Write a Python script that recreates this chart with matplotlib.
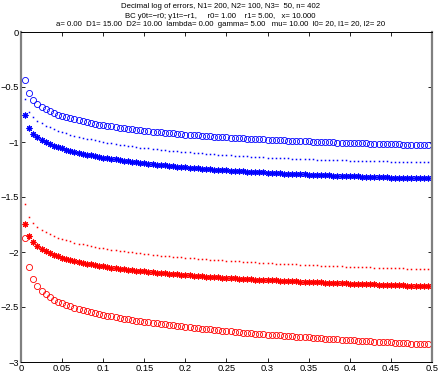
import matplotlib
matplotlib.use("Agg")
import matplotlib.pyplot as plt

# x grid of the computed points
x_vals = [0.005, 0.010, 0.015, 0.020, 0.025, 0.030, 0.035, 0.040, 0.045, 0.050,
          0.055, 0.060, 0.065, 0.070, 0.075, 0.080, 0.085, 0.090, 0.095, 0.100,
          0.105, 0.110, 0.115, 0.120, 0.125, 0.130, 0.135, 0.140, 0.145, 0.150,
          0.155, 0.160, 0.165, 0.170, 0.175, 0.180, 0.185, 0.190, 0.195, 0.200,
          0.205, 0.210, 0.215, 0.220, 0.225, 0.230, 0.235, 0.240, 0.245, 0.250,
          0.255, 0.260, 0.265, 0.270, 0.275, 0.280, 0.285, 0.290, 0.295, 0.300,
          0.305, 0.310, 0.315, 0.320, 0.325, 0.330, 0.335, 0.340, 0.345, 0.350,
          0.355, 0.360, 0.365, 0.370, 0.375, 0.380, 0.385, 0.390, 0.395, 0.400,
          0.405, 0.410, 0.415, 0.420, 0.425, 0.430, 0.435, 0.440, 0.445, 0.450,
          0.455, 0.460, 0.465, 0.470, 0.475, 0.480, 0.485, 0.490, 0.495]

# blue circles
blue_circle = [-0.439, -0.559, -0.615, -0.652, -0.679, -0.701, -0.720, -0.736, -0.750, -0.762, -0.774, -0.784, -0.794, -0.803, -0.812, -0.819, -0.827, -0.834, -0.841, -0.847, -0.853, -0.859, -0.864, -0.869, -0.874, -0.879, -0.884, -0.888, -0.893, -0.897, -0.901, -0.905, -0.908, -0.912, -0.916, -0.919, -0.922, -0.926, -0.929, -0.932, -0.935, -0.938, -0.940, -0.943, -0.946, -0.948, -0.951, -0.953, -0.956, -0.958, -0.960, -0.962, -0.965, -0.967, -0.969, -0.971, -0.973, -0.975, -0.977, -0.979, -0.980, -0.982, -0.984, -0.986, -0.987, -0.989, -0.990, -0.992, -0.994, -0.995, -0.997, -0.998, -0.999, -1.001, -1.002, -1.004, -1.005, -1.006, -1.007, -1.009, -1.010, -1.011, -1.012, -1.013, -1.014, -1.016, -1.017, -1.018, -1.019, -1.020, -1.021, -1.022, -1.023, -1.024, -1.025, -1.026, -1.027, -1.027, -1.028]
# blue dots
blue_dot = [-0.608, -0.723, -0.774, -0.806, -0.831, -0.851, -0.868, -0.883, -0.897, -0.910, -0.922, -0.932, -0.943, -0.952, -0.961, -0.969, -0.977, -0.985, -0.992, -0.999, -1.006, -1.012, -1.018, -1.024, -1.029, -1.035, -1.040, -1.045, -1.050, -1.054, -1.059, -1.063, -1.067, -1.071, -1.075, -1.078, -1.082, -1.086, -1.089, -1.092, -1.095, -1.098, -1.101, -1.104, -1.107, -1.110, -1.113, -1.115, -1.118, -1.120, -1.122, -1.125, -1.127, -1.129, -1.131, -1.133, -1.135, -1.137, -1.139, -1.141, -1.143, -1.145, -1.146, -1.148, -1.149, -1.151, -1.153, -1.154, -1.155, -1.157, -1.158, -1.160, -1.161, -1.162, -1.163, -1.164, -1.166, -1.167, -1.168, -1.169, -1.170, -1.171, -1.172, -1.173, -1.174, -1.175, -1.175, -1.176, -1.177, -1.178, -1.179, -1.179, -1.180, -1.181, -1.182, -1.182, -1.183, -1.183, -1.184]
# blue asterisks
blue_star = [-0.759, -0.874, -0.925, -0.958, -0.982, -1.002, -1.019, -1.034, -1.047, -1.059, -1.070, -1.080, -1.089, -1.098, -1.106, -1.114, -1.122, -1.129, -1.135, -1.142, -1.148, -1.154, -1.159, -1.165, -1.170, -1.175, -1.180, -1.184, -1.189, -1.193, -1.197, -1.201, -1.205, -1.209, -1.213, -1.216, -1.220, -1.223, -1.226, -1.230, -1.233, -1.236, -1.239, -1.242, -1.244, -1.247, -1.250, -1.252, -1.255, -1.257, -1.260, -1.262, -1.264, -1.267, -1.269, -1.271, -1.273, -1.275, -1.277, -1.279, -1.281, -1.283, -1.285, -1.287, -1.288, -1.290, -1.292, -1.293, -1.295, -1.297, -1.298, -1.300, -1.301, -1.303, -1.304, -1.306, -1.307, -1.308, -1.310, -1.311, -1.312, -1.313, -1.315, -1.316, -1.317, -1.318, -1.319, -1.320, -1.321, -1.323, -1.324, -1.325, -1.326, -1.327, -1.328, -1.329, -1.329, -1.330, -1.331]
# red dots
red_dot = [-1.565, -1.680, -1.736, -1.772, -1.800, -1.822, -1.840, -1.856, -1.870, -1.882, -1.894, -1.904, -1.914, -1.923, -1.931, -1.939, -1.947, -1.954, -1.960, -1.967, -1.973, -1.978, -1.984, -1.989, -1.994, -1.999, -2.004, -2.008, -2.013, -2.017, -2.021, -2.025, -2.029, -2.032, -2.036, -2.039, -2.043, -2.046, -2.049, -2.052, -2.055, -2.058, -2.061, -2.064, -2.067, -2.069, -2.072, -2.074, -2.077, -2.079, -2.082, -2.084, -2.086, -2.088, -2.091, -2.093, -2.095, -2.097, -2.099, -2.101, -2.103, -2.105, -2.106, -2.108, -2.110, -2.112, -2.113, -2.115, -2.117, -2.118, -2.120, -2.122, -2.123, -2.125, -2.126, -2.128, -2.129, -2.130, -2.132, -2.133, -2.135, -2.136, -2.137, -2.138, -2.140, -2.141, -2.142, -2.143, -2.145, -2.146, -2.147, -2.148, -2.149, -2.150, -2.151, -2.152, -2.153, -2.154, -2.155]
# red asterisks
red_star = [-1.749, -1.853, -1.907, -1.943, -1.970, -1.991, -2.010, -2.025, -2.039, -2.051, -2.062, -2.072, -2.081, -2.089, -2.097, -2.105, -2.112, -2.118, -2.124, -2.130, -2.136, -2.141, -2.146, -2.151, -2.156, -2.160, -2.165, -2.169, -2.173, -2.177, -2.180, -2.184, -2.187, -2.191, -2.194, -2.197, -2.201, -2.204, -2.207, -2.209, -2.212, -2.215, -2.218, -2.220, -2.223, -2.225, -2.228, -2.230, -2.232, -2.235, -2.237, -2.239, -2.241, -2.243, -2.246, -2.248, -2.250, -2.252, -2.253, -2.255, -2.257, -2.259, -2.261, -2.263, -2.264, -2.266, -2.268, -2.269, -2.271, -2.273, -2.274, -2.276, -2.277, -2.279, -2.280, -2.282, -2.283, -2.285, -2.286, -2.287, -2.289, -2.290, -2.291, -2.293, -2.294, -2.295, -2.297, -2.298, -2.299, -2.300, -2.302, -2.303, -2.304, -2.305, -2.306, -2.307, -2.308, -2.310, -2.311]
# red circles
red_circle = [-1.876, -2.140, -2.248, -2.311, -2.353, -2.386, -2.411, -2.432, -2.451, -2.467, -2.481, -2.494, -2.506, -2.517, -2.527, -2.537, -2.546, -2.555, -2.563, -2.571, -2.578, -2.585, -2.592, -2.599, -2.605, -2.611, -2.617, -2.623, -2.628, -2.634, -2.639, -2.644, -2.649, -2.654, -2.659, -2.663, -2.668, -2.672, -2.677, -2.681, -2.685, -2.689, -2.693, -2.697, -2.701, -2.704, -2.708, -2.712, -2.715, -2.719, -2.722, -2.725, -2.729, -2.732, -2.735, -2.738, -2.741, -2.744, -2.747, -2.750, -2.753, -2.756, -2.759, -2.762, -2.764, -2.767, -2.770, -2.772, -2.775, -2.777, -2.780, -2.782, -2.785, -2.787, -2.790, -2.792, -2.794, -2.797, -2.799, -2.801, -2.803, -2.806, -2.808, -2.810, -2.812, -2.814, -2.816, -2.818, -2.820, -2.822, -2.824, -2.826, -2.828, -2.830, -2.832, -2.834, -2.836, -2.838, -2.839]

x_ticks = [0, 0.05, 0.1, 0.15, 0.2, 0.25, 0.3, 0.35, 0.4, 0.45, 0.5]
x_ticklabels = ['0', '0.05', '0.1', '0.15', '0.2', '0.25', '0.3', '0.35', '0.4', '0.45', '0.5']
y_ticks = [0, -0.5, -1, -1.5, -2, -2.5, -3]
y_ticklabels = ['0', '\u22120.5', '\u22121', '\u22121.5', '\u22122', '\u22122.5', '\u22123']

title_lines = [
    'Decimal log of errors, N1= 200, N2= 100, N3=  50, n= 402',
    'BC y0t=\u2212r0; y1t=\u2212r1,     r0= 1.00    r1= 5.00,   x= 10.000',
    'a= 0.00  D1= 15.00  D2= 10.00  lambda= 0.00  gamma= 5.00   mu= 10.00  l0= 20, l1= 20, l2= 20',
]

plt.rcParams['font.family'] = ['Liberation Sans', 'DejaVu Sans']
fig = plt.figure(figsize=(4.43, 3.74), dpi=100)
ax = fig.add_axes([21/443, 12/374, 411/443, 330/374])
blue = '#0000ff'
red = '#ff0000'

def xs(y):
    return x_vals[:len(y)]

ax.plot(xs(blue_circle), blue_circle, 'o', mfc='none', color=blue, ms=4.4, mew=0.6)
ax.plot(xs(blue_dot), blue_dot, 's', color=blue, ms=1.1, mew=0)
ax.plot(xs(blue_star), blue_star, marker=(8, 2, 0), ls='none', color=blue, ms=4.2, mew=0.8)
ax.plot(xs(red_circle), red_circle, 'o', mfc='none', color=red, ms=4.4, mew=0.6)
ax.plot(xs(red_dot), red_dot, 's', color=red, ms=1.1, mew=0)
ax.plot(xs(red_star), red_star, marker=(8, 2, 0), ls='none', color=red, ms=4.2, mew=0.8)

ax.set_xlim(0, 0.5)
ax.set_ylim(-3, 0)
ax.set_xticks(x_ticks)
ax.set_xticklabels(x_ticklabels)
ax.set_yticks(y_ticks)
ax.set_yticklabels(y_ticklabels)
ax.tick_params(direction='in', length=3, width=0.6, top=True, right=True,
               labelsize=6.7, pad=1.5)
for s in ['top', 'bottom']:
    ax.spines[s].set_linewidth(0.7)
for s in ['left', 'right']:
    ax.spines[s].set_linewidth(1.6)
    ax.spines[s].set_color('#808080')

for t, yp in zip(title_lines, [6, 16, 25]):
    fig.text(0.497, 1 - yp/374, t, ha='center', va='center', fontsize=5.6)

fig.savefig('out.png')
